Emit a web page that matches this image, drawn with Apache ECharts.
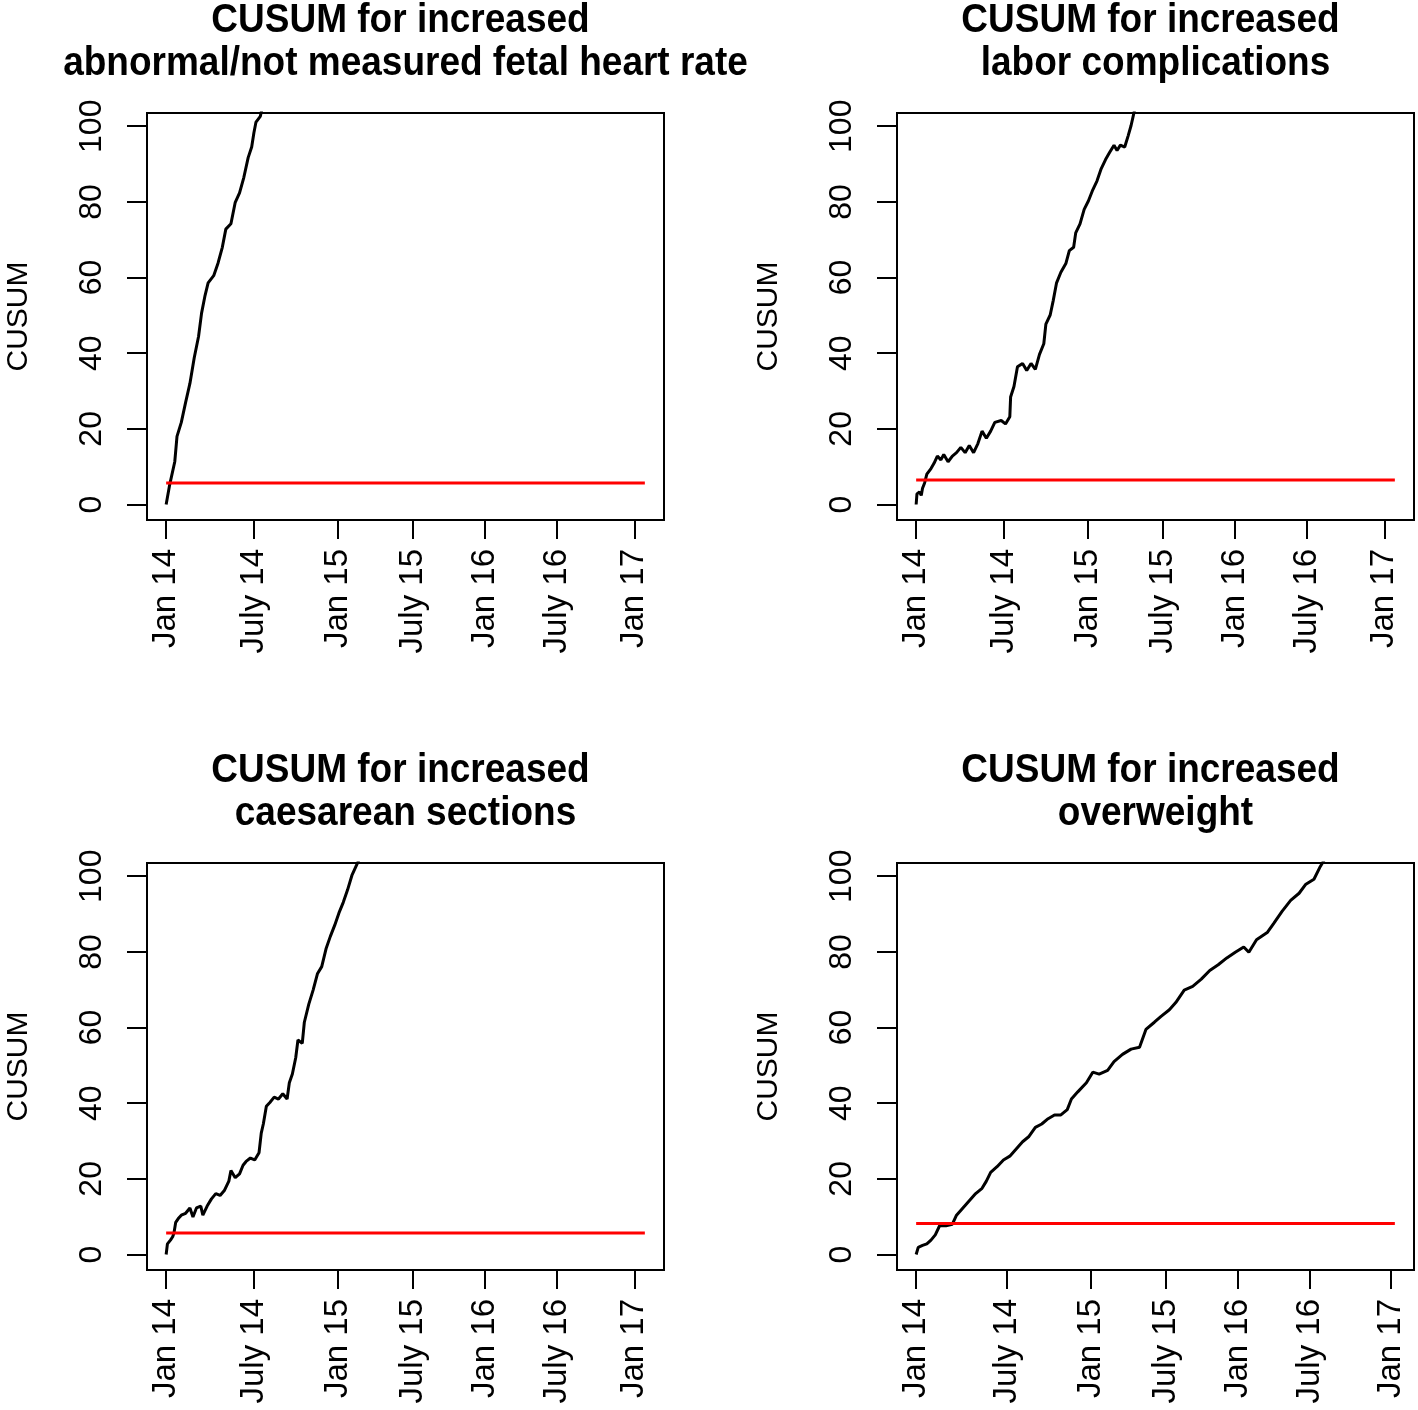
<!DOCTYPE html>
<html>
<head>
<meta charset="utf-8">
<script src="https://cdn.jsdelivr.net/npm/echarts@6/dist/echarts.min.js"></script>
<style>
  html, body { margin: 0; padding: 0; background: #fff; }
  #chart { width: 1418px; height: 1410px; }
</style>
</head>
<body>
<div id="chart"></div>
<script>
// ---- Data (x = observation/birth number, y = CUSUM) ----
const tickLabels = ['Jan 14', 'July 14', 'Jan 15', 'July 15', 'Jan 16', 'July 16', 'Jan 17'];
const tickObsA = [0, 549, 1074, 1545, 1998, 2451, 2934];
const tickObsB = [0, 566, 1094, 1563, 2015, 2465, 2976];
const yTicks = [0, 20, 40, 60, 80, 100];
const lastObs = 3000;

const titles = [
  ['CUSUM for increased', 'abnormal/not measured fetal heart rate'],
  ['CUSUM for increased', 'labor complications'],
  ['CUSUM for increased', 'caesarean sections'],
  ['CUSUM for increased', 'overweight']
];

const obsHeart = [0, 22, 54, 68, 95, 122, 149, 176, 203, 222, 244, 263, 298, 325, 352, 374, 406, 433, 460, 487, 514, 536, 550, 563, 590, 600];
const cusumHeart = [0, 5.2, 11.3, 18, 21.7, 27, 32, 38.8, 44.4, 50.6, 55.3, 58.6, 60.5, 63.8, 68, 72.8, 74.2, 79.9, 82.4, 86.5, 91.7, 94.5, 98.3, 101.1, 102.6, 104.5];
const hHeart = 5.7;

const obsLabor = [0, 5, 21, 32, 40, 53, 67, 93, 112, 133, 155, 173, 200, 227, 253, 280, 307, 333, 360, 387, 413, 440, 467, 493, 533, 560, 587, 592, 613, 635, 667, 693, 720, 747, 773, 800, 813, 840, 859, 880, 907, 939, 960, 987, 1000, 1027, 1053, 1080, 1107, 1133, 1160, 1187, 1213, 1240, 1259, 1280, 1307, 1328, 1347, 1370];
const cusumLabor = [0, 2.8, 3.3, 2.4, 4.3, 5.7, 8, 9.5, 10.9, 12.8, 11.8, 13.2, 11.3, 12.8, 13.7, 15.1, 13.7, 15.6, 13.7, 16.1, 19.4, 17.5, 19.4, 21.7, 22.2, 21.3, 23.2, 28.4, 31.2, 36.4, 37.3, 35.4, 37.3, 35.7, 39.7, 42.5, 47.7, 50.1, 53.9, 58.6, 61.4, 63.8, 67.1, 68, 71.8, 74.2, 78, 80.3, 83.2, 85.5, 88.8, 91.2, 93.1, 95, 93.6, 95, 94.5, 97.4, 100.2, 104.5];
const hLabor = 6.5;

const obsCaesar = [0, 8, 27, 41, 49, 60, 76, 95, 122, 149, 168, 190, 217, 230, 257, 284, 311, 338, 366, 393, 406, 433, 460, 482, 501, 528, 555, 582, 596, 609, 628, 650, 677, 704, 731, 758, 772, 791, 812, 826, 853, 866, 894, 921, 948, 975, 1002, 1029, 1056, 1083, 1110, 1137, 1164, 1210];
const cusumCaesar = [0, 2.8, 3.8, 4.7, 5.7, 8.5, 9.5, 10.4, 10.9, 12.3, 9.9, 12.3, 12.8, 10.4, 12.8, 14.7, 16.1, 15.6, 17, 19.4, 22.2, 20.3, 21.3, 23.6, 24.6, 25.5, 25, 26.9, 32.1, 34.5, 39.2, 40.2, 41.6, 41.1, 42.5, 41.1, 45.4, 47.7, 52, 56.7, 55.8, 61.4, 66.2, 69.9, 74.2, 76.1, 80.8, 84.1, 87, 90.3, 93.1, 96.4, 100.2, 104.5];
const hCaesar = 5.7;

const obsOverweight = [0, 13, 40, 67, 93, 120, 147, 187, 227, 253, 293, 333, 373, 413, 440, 467, 507, 547, 587, 627, 667, 707, 747, 787, 827, 867, 907, 947, 973, 1013, 1067, 1107, 1147, 1200, 1240, 1293, 1347, 1400, 1440, 1493, 1533, 1587, 1627, 1680, 1733, 1787, 1840, 1893, 1947, 2000, 2053, 2085, 2133, 2200, 2240, 2293, 2347, 2400, 2440, 2493, 2533, 2560];
const cusumOverweight = [0, 1.9, 2.4, 2.8, 3.8, 5.2, 7.6, 7.6, 8, 10.4, 12.3, 14.2, 16.1, 17.5, 19.4, 21.7, 23.2, 25, 26, 27.9, 29.8, 31.2, 33.6, 34.5, 35.9, 36.9, 36.9, 38.3, 41.1, 43, 45.4, 48.2, 47.7, 48.7, 51, 52.9, 54.3, 54.8, 59.5, 61.4, 62.9, 64.7, 66.6, 69.9, 70.9, 72.8, 75.1, 76.6, 78.4, 79.9, 81.3, 79.9, 83.2, 85.1, 87.5, 90.7, 93.6, 95.5, 97.8, 99.2, 102.6, 104.5];
const hOverweight = 8.2;

// ---- Layout ----
const FONT = '"Liberation Sans", Arial, sans-serif';
const panels = [
  { left: 147, top: 113, obs: obsHeart, cusum: cusumHeart, h: hHeart, ticks: tickObsA, title: titles[0] },
  { left: 897, top: 113, obs: obsLabor, cusum: cusumLabor, h: hLabor, ticks: tickObsA, title: titles[1] },
  { left: 147, top: 863, obs: obsCaesar, cusum: cusumCaesar, h: hCaesar, ticks: tickObsA, title: titles[2] },
  { left: 897, top: 863, obs: obsOverweight, cusum: cusumOverweight, h: hOverweight, ticks: tickObsB, title: titles[3] }
];
const W = 517, H = 407;

const grid = [], xAxis = [], yAxis = [], series = [], graphic = [];
panels.forEach((p, i) => {
  grid.push({ left: p.left, top: p.top, width: W, height: H, show: true,
    borderColor: '#000', borderWidth: 2, backgroundColor: 'transparent' });
  const tks = p.ticks;
  xAxis.push({
    gridIndex: i, type: 'value', min: -0.04 * lastObs, max: 1.04 * lastObs,
    splitLine: { show: false },
    axisLine: { show: true, onZero: false, lineStyle: { color: '#000', width: 2 } },
    axisTick: { show: true, customValues: tks, length: 19, lineStyle: { color: '#000', width: 2 } },
    axisLabel: { customValues: tks, rotate: 90, margin: 29, color: '#000',
      fontSize: 33, fontFamily: FONT,
      formatter: v => { const k = tks.indexOf(v); return k >= 0 ? tickLabels[k] : ''; } }
  });
  yAxis.push({
    gridIndex: i, type: 'value', min: -4.1, max: 103.5,
    name: 'CUSUM', nameLocation: 'middle', nameGap: 113, nameRotate: 90,
    nameTextStyle: { fontSize: 30, fontFamily: FONT, color: '#000' },
    splitLine: { show: false },
    axisLine: { show: true, onZero: false, lineStyle: { color: '#000', width: 2 } },
    axisTick: { show: true, customValues: yTicks, length: 20, lineStyle: { color: '#000', width: 2 } },
    axisLabel: { customValues: yTicks, rotate: 90, margin: 39, color: '#000',
      fontSize: 32, fontFamily: FONT }
  });
  series.push({
    type: 'line', xAxisIndex: i, yAxisIndex: i, showSymbol: false, clip: true,
    data: p.obs.map((x, k) => [x, p.cusum[k]]),
    lineStyle: { color: '#000', width: 3 }, animation: false, silent: true
  });
  series.push({
    type: 'line', xAxisIndex: i, yAxisIndex: i, showSymbol: false, clip: true,
    data: [[0, p.h], [lastObs, p.h]],
    lineStyle: { color: '#ff0000', width: 3 }, animation: false, silent: true
  });
  const cx = p.left + W / 2;
  const ty = p.top - 92;
  graphic.push({ type: 'text', x: cx - 5, y: ty, scaleY: 1.12,
    style: { text: p.title[0], font: 'bold 37px ' + FONT, fill: '#000',
      align: 'center', verticalAlign: 'middle', textAlign: 'center', textVerticalAlign: 'middle' } });
  graphic.push({ type: 'text', x: cx, y: ty + 43, scaleY: 1.12,
    style: { text: p.title[1], font: 'bold 37px ' + FONT, fill: '#000',
      align: 'center', verticalAlign: 'middle', textAlign: 'center', textVerticalAlign: 'middle' } });
});

const chart = echarts.init(document.getElementById('chart'), null, { renderer: 'canvas' });
chart.setOption({
  backgroundColor: '#fff',
  animation: false,
  grid, xAxis, yAxis, series, graphic
});
</script>
</body>
</html>
